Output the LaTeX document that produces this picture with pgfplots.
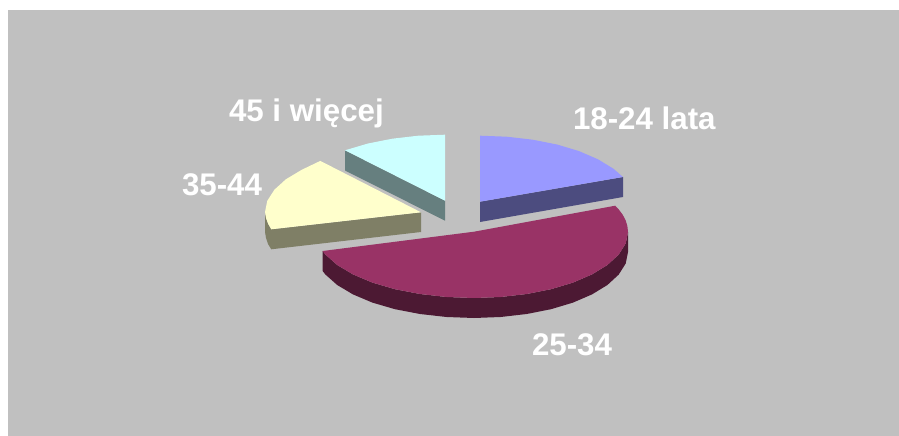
\documentclass[border=0pt]{standalone}
\usepackage{fontspec}
\setmainfont{Liberation Sans}
\usepackage{pgfplots}
\pgfplotsset{compat=1.18}
\definecolor{bg}{HTML}{C0C0C0}
\definecolor{blueT}{HTML}{9999FF}\definecolor{blueS}{HTML}{4C4C7F}
\definecolor{marT}{HTML}{993366}\definecolor{marS}{HTML}{4C1933}
\definecolor{yelT}{HTML}{FFFFCC}\definecolor{yelS}{HTML}{7F7F66}
\definecolor{cyaT}{HTML}{CCFFFF}\definecolor{cyaS}{HTML}{667F7F}
\begin{document}
\begin{tikzpicture}
\begin{axis}[
  scale only axis, width=899pt, height=436pt,
  xmin=0, xmax=899, ymin=0, ymax=436, y dir=reverse,
  hide axis,
  every axis plot/.append style={draw=none, mark=none, line width=0pt},
]
% page and chart area
\addplot[fill=white] coordinates {(0,0)(899,0)(899,436)(0,436)} -- cycle;
\addplot[fill=bg] coordinates {(8,10)(899,10)(899,436)(8,436)} -- cycle;
% 45 i wiecej: side, top
\addplot[fill=cyaS] coordinates {(345,150.3)(445,200.7)(445,220.7)(345,170.5)} -- cycle;
\addplot[fill=cyaT] coordinates {(445,200.7)(445,134.7)(418.2,135.7)(392.3,138.7)(368,143.5)(345,150.3)} -- cycle;
% 35-44: side, top
\addplot[fill=yelS] coordinates {(421,212.3)(271.3,229.3)(268,224)(266,218)(265,212)(265,232)(266,238)(268,244)(271.3,249.3)(421,232)} -- cycle;
\addplot[fill=yelT] coordinates {(421,212.3)(271.3,229.3)(268.2,223.8)(266,218)(265,212)(267.3,200.8)(274.4,189.7)(285.9,179.3)(301.5,169.9)(320.3,160.9)} -- cycle;
% 18-24 lata: side, top
\addplot[fill=blueS] coordinates {(480,201.7)(623,177)(623,197)(480,222)} -- cycle;
\addplot[fill=blueT] coordinates {(480,201.7)(480,135.7)(506.8,136.7)(532.7,139.7)(557,144.5)(579,151.1)(598,159.3)(613.4,168.7)(623,177)} -- cycle;
% 25-34: side, top
\addplot[fill=marS] coordinates {(628,232)(625.7,243.5)(618.7,254.6)(607.4,265)(592,274.4)(573,282.6)(551,289.2)(526.7,294)(500.7,297)(474,298)(446.6,297)(420,294)(395,289.2)(372.4,282.6)(353,274.4)(337.2,265)(325.5,254.6)(322.6,251)
 (322.6,271)(325.5,274.6)(337.2,285)(353,294.4)(372.4,302.6)(395,309.2)(420,314)(446.6,317)(474,318)(500.7,317)(526.7,314)(551,309.2)(573,302.6)(592,294.4)(607.4,285)(618.7,274.6)(625.7,263.5)(628,252)} -- cycle;
\addplot[fill=marT] coordinates {(474,231.7)(615.2,205.7)(618.7,209.4)(622.8,214.9)(625.7,220.5)(627.4,226.2)(628,232)(625.7,243.5)(618.7,254.6)(607.4,265)(592,274.4)(573,282.6)(551,289.2)(526.7,294)(500.7,297)(474,298)(446.6,297)(420,294)(395,289.2)(372.4,282.6)(353,274.4)(337.2,265)(325.5,254.6)(322.6,251)} -- cycle;
% labels
\begin{scope}[every node/.style={inner sep=0pt, outer sep=0pt, text=white, font=\fontsize{31.3}{36}\selectfont\bfseries, anchor=base west}]
\node at (axis cs:573,129) {18-24 lata};
\node at (axis cs:229,121) {45 i więcej};
\node at (axis cs:182,195) {35-44};
\node at (axis cs:532,355) {25-34};
\end{scope}
\end{axis}
\end{tikzpicture}
\end{document}
